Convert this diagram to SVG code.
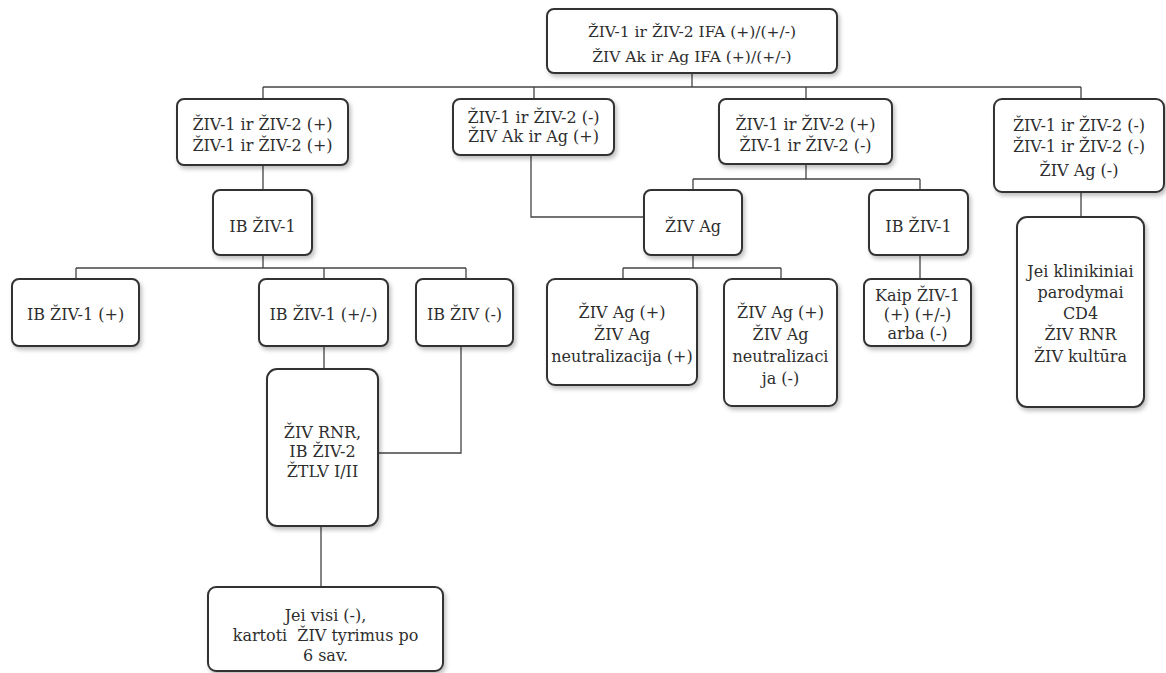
<svg xmlns="http://www.w3.org/2000/svg" width="1166" height="673" viewBox="0 0 1166 673">
<defs>
<filter id="sh" x="-10%" y="-10%" width="125%" height="130%">
<feDropShadow dx="2" dy="3" stdDeviation="2" flood-color="#000" flood-opacity="0.25"/>
</filter>
<style>
.n rect{fill:#fff;stroke:#333;stroke-width:2;filter:url(#sh)}
.n text{font-family:"DejaVu Serif","Liberation Serif",serif;font-size:16px;fill:#2e2e2e;text-anchor:middle}
.c path{fill:none;stroke:#444;stroke-width:1.3}
</style>
</defs>
<rect width="1166" height="673" fill="#fff"/>
<g class="c" id="connectors">
<path d="M692,73V87M263,87H1081M263,87V99M534,87V99M806,87V99M1081,87V99"/>
<path d="M263,165V190M263,255V268M76,268H466M76,268V279M324,268V279M466,268V279"/>
<path d="M531,155V217H644"/>
<path d="M806,164V179M693,179H920M693,179V190M920,179V190"/>
<path d="M693,255V268M623,268H781M623,268V279M781,268V279"/>
<path d="M920,255V290"/>
<path d="M1081,192V217"/>
<path d="M324,346V369M461,346V453H378M321,526V587"/>
</g>
<g class="n" id="top"><rect x="547" y="9" width="290" height="64" rx="7"/><text x="692" y="37" style="font-size:15.5px">ŽIV-1 ir ŽIV-2 IFA (+)/(+/-)</text><text x="692" y="62" style="font-size:15.5px">ŽIV Ak ir Ag IFA (+)/(+/-)</text></g>
<g class="n" id="nA"><rect x="177" y="99" width="171" height="66" rx="7"/><text x="262.5" y="130">ŽIV-1 ir ŽIV-2 (+)</text><text x="262.5" y="151">ŽIV-1 ir ŽIV-2 (+)</text></g>
<g class="n" id="nB"><rect x="453" y="99" width="161" height="56" rx="7"/><text x="533.5" y="123">ŽIV-1 ir ŽIV-2 (-)</text><text x="533.5" y="142">ŽIV Ak ir Ag (+)</text></g>
<g class="n" id="nC"><rect x="719" y="99" width="173" height="65" rx="7"/><text x="805.5" y="130">ŽIV-1 ir ŽIV-2 (+)</text><text x="805.5" y="151">ŽIV-1 ir ŽIV-2 (-)</text></g>
<g class="n" id="nD"><rect x="994" y="99" width="170" height="93" rx="8"/><text x="1079" y="131">ŽIV-1 ir ŽIV-2 (-)</text><text x="1079" y="152">ŽIV-1 ir ŽIV-2 (-)</text><text x="1079" y="176">ŽIV Ag (-)</text></g>
<g class="n" id="ib1"><rect x="213" y="190" width="99" height="65" rx="7"/><text x="262.5" y="232">IB ŽIV-1</text></g>
<g class="n" id="ag"><rect x="644" y="190" width="98" height="65" rx="7"/><text x="693" y="232">ŽIV Ag</text></g>
<g class="n" id="ib1r"><rect x="869" y="190" width="99" height="65" rx="7"/><text x="918.5" y="232">IB ŽIV-1</text></g>
<g class="n" id="ibp"><rect x="12" y="279" width="127" height="67" rx="7"/><text x="75.5" y="320">IB ŽIV-1 (+)</text></g>
<g class="n" id="ibpm"><rect x="259" y="279" width="129" height="67" rx="7"/><text x="323.5" y="320">IB ŽIV-1 (+/-)</text></g>
<g class="n" id="ibm"><rect x="416" y="279" width="97" height="67" rx="7"/><text x="464.5" y="320">IB ŽIV (-)</text></g>
<g class="n" id="ag1"><rect x="547" y="279" width="150" height="106" rx="8"/><text x="622" y="318">ŽIV Ag (+)</text><text x="622" y="340">ŽIV Ag</text><text x="622" y="362">neutralizacija (+)</text></g>
<g class="n" id="ag2"><rect x="724" y="279" width="113" height="127" rx="8"/><text x="780.5" y="318">ŽIV Ag (+)</text><text x="780.5" y="340">ŽIV Ag</text><text x="780.5" y="362">neutralizaci</text><text x="780.5" y="384">ja (-)</text></g>
<g class="n" id="kaip"><rect x="864" y="279" width="107" height="67" rx="7"/><text x="917.5" y="301">Kaip ŽIV-1</text><text x="917.5" y="320">(+) (+/-)</text><text x="917.5" y="339">arba (-)</text></g>
<g class="n" id="nE"><rect x="1017" y="217" width="127" height="190" rx="10"/><text x="1080.5" y="277">Jei klinikiniai</text><text x="1080.5" y="298">parodymai</text><text x="1080.5" y="319">CD4</text><text x="1080.5" y="340">ŽIV RNR</text><text x="1080.5" y="362">ŽIV kultūra</text></g>
<g class="n" id="rnr"><rect x="267" y="369" width="111" height="157" rx="10"/><text x="322.5" y="438">ŽIV RNR,</text><text x="322.5" y="457">IB ŽIV-2</text><text x="322.5" y="477">ŽTLV I/II</text></g>
<g class="n" id="bottom"><rect x="208" y="587" width="235" height="84" rx="8"/><text x="325.5" y="621">Jei visi (-),</text><text x="325.5" y="641">kartoti&#160; ŽIV tyrimus po</text><text x="325.5" y="661">6 sav.</text></g>
</svg>
